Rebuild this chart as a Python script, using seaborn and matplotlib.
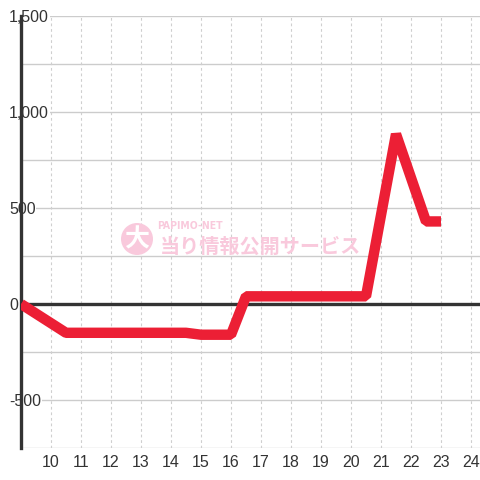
import matplotlib
matplotlib.use("Agg")
import matplotlib.pyplot as plt
import pandas as pd
import seaborn as sns

# data
hours = [9, 10.5, 14.5, 15, 16, 16.5, 20.5, 21.5, 22.5, 23]
balance = [0, -150, -150, -160, -160, 40, 40, 885, 430, 430]
x_ticks = list(range(10, 25))
y_ticks = [-500, 0, 500, 1000, 1500]
y_grid = [-750, -500, -250, 0, 250, 500, 750, 1000, 1250, 1500]

sns.set_style("white")
plt.rcParams["font.family"] = ["Liberation Sans", "DejaVu Sans"]

df = pd.DataFrame({"hour": hours, "balance": balance})

fig = plt.figure(figsize=(4.8, 4.8), dpi=100)
ax = fig.add_axes([21 / 480, 32 / 480, 1 - 21 / 480, 432 / 480])

# watermark (behind grid)
pink = "#F9C9DC"
fig.text(137 / 480, 1 - 239 / 480, "大", color="white", fontsize=18, fontweight="bold",
         family=["Noto Sans CJK JP"], ha="center", va="center", zorder=0.1,
         bbox=dict(boxstyle="circle,pad=0.14", fc=pink, ec="none"))
fig.text(190 / 480, 1 - 226 / 480, "PAPIMO-NET", color=pink, fontsize=7.5,
         fontweight="bold", family=["DejaVu Sans"], stretch="condensed",
         ha="center", va="center", zorder=0.1)
fig.text(260 / 480, 1 - 246 / 480, "当り情報公開サービス", color=pink, fontsize=14.5,
         fontweight="bold", family=["Noto Sans CJK JP"], ha="center", va="center",
         zorder=0.1)
ax.patch.set_alpha(0)

# grid
for v in y_grid:
    ax.axhline(v, color="#cccccc", lw=1, zorder=0.5)
for h in x_ticks:
    ax.axvline(h, color="#cfcfcf", lw=0.8, ls=(0, (2.5, 2.5)), zorder=0.5)
ax.axhline(0, color="#333333", lw=2.4, zorder=1)

sns.lineplot(data=df, x="hour", y="balance", ax=ax, color="#EC1F35", lw=7.5,
             solid_joinstyle="bevel", solid_capstyle="butt", zorder=3)

ax.set_xlim(9, 24.3)
ax.set_ylim(-750, 1500)
ax.set_xticks(x_ticks)
ax.set_xticklabels([str(t) for t in x_ticks])
ax.set_yticks(y_ticks)
ax.set_yticklabels([f"{t:,}" for t in y_ticks])
ax.set_xlabel("")
ax.set_ylabel("")

for s in ["top", "right", "bottom"]:
    ax.spines[s].set_visible(False)
ax.spines["left"].set_color("#333333")
ax.spines["left"].set_linewidth(2.4)
ax.spines["left"].set_zorder(2)

ax.tick_params(axis="both", length=0, labelsize=11.5, labelcolor="#333333")
ax.tick_params(axis="x", pad=5)
ax.tick_params(axis="y", pad=8.5)
for lab in ax.get_yticklabels():
    lab.set_horizontalalignment("left")
    lab.set_bbox(dict(fc="white", ec="none", pad=0.5))
    lab.set_zorder(4)

fig.savefig("out.png", dpi=100, facecolor="white")
